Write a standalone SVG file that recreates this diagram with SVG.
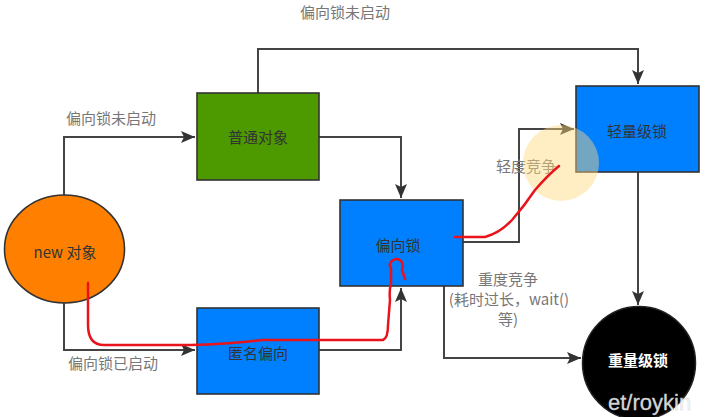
<svg xmlns="http://www.w3.org/2000/svg" width="712" height="417" viewBox="0 0 712 417">
<defs>
<style>
.box{stroke:#333;stroke-width:1.6}
.lbl{font-family:"Noto Sans CJK SC","Liberation Sans",sans-serif;font-size:15px;fill:#333;text-anchor:middle;dominant-baseline:central}
.elbl{font-family:"Noto Sans CJK SC","Liberation Sans",sans-serif;font-size:15px;fill:#777;text-anchor:middle}
.edge{fill:none;stroke:#444;stroke-width:2}
.red{fill:none;stroke:#e8131b;stroke-width:2.5;stroke-linecap:round;stroke-linejoin:round}
</style>
<marker id="a2" viewBox="0 0 14 12" refX="14" refY="6" markerWidth="14" markerHeight="12" markerUnits="userSpaceOnUse" orient="auto">
<path d="M0,0 L14,6 L0,12 L3,6 Z" fill="#333"/>
</marker>
</defs>
<rect width="712" height="417" fill="#fff"/>

<g id="connectors">
<path class="edge" d="M64,195 V137 H195" marker-end="url(#a2)"/>
<path class="edge" d="M64,303 V350 H195" marker-end="url(#a2)"/>
<path class="edge" d="M258,93 V49 H638 V84" marker-end="url(#a2)"/>
<path class="edge" d="M319,137 H401 V198" marker-end="url(#a2)"/>
<path class="edge" d="M319,350 H401 V288" marker-end="url(#a2)"/>
<path class="edge" d="M463,242 H519 V129 H574" marker-end="url(#a2)"/>
<path class="edge" d="M444,286 V358 H581" marker-end="url(#a2)"/>
<path class="edge" d="M638,172 V305" marker-end="url(#a2)"/>
<text class="elbl" x="345" y="18">偏向锁未启动</text>
<text class="elbl" x="111" y="124">偏向锁未启动</text>
<text class="elbl" x="113" y="369">偏向锁已启动</text>
<text class="elbl" x="526" y="172">轻度竞争</text>
<text class="elbl" x="508" y="285">重度竞争</text>
<text class="elbl" x="509" y="305">(耗时过长，wait()</text>
<text class="elbl" x="508" y="325">等)</text>
</g>

<g id="n-new">
<ellipse class="box" cx="64.5" cy="249" rx="60" ry="54" fill="#ff8000"/>
<text class="lbl" x="65" y="251">new 对象</text>
</g>
<g id="n-normal">
<rect class="box" x="197" y="93" width="122" height="87" fill="#4d9900"/>
<text class="lbl" x="258" y="136">普通对象</text>
</g>
<g id="n-anon">
<rect class="box" x="197" y="308" width="122" height="86" fill="#007fff"/>
<text class="lbl" x="258" y="352">匿名偏向</text>
</g>
<g id="n-biased">
<rect class="box" x="340" y="200" width="123" height="86" fill="#007fff"/>
<text class="lbl" x="398" y="244">偏向锁</text>
</g>
<g id="n-light">
<rect class="box" x="576" y="86" width="123" height="86" fill="#007fff"/>
<text class="lbl" x="637" y="130">轻量级锁</text>
</g>
<g id="n-heavy">
<circle cx="639" cy="363" r="56.5" fill="#000" stroke="#222" stroke-width="1.5"/>
<text class="lbl" x="638" y="359" style="fill:#fff;font-weight:bold">重量级锁</text>
</g>

<circle cx="561" cy="163" r="38" fill="#ffd77a" fill-opacity="0.45"/>

<g id="annotations">
<path class="red" d="M88,283 V325 Q88,345 104,345 H190 Q230,344 262,340 H383 Q388,338 388,325 L390,300 Q389,290 391,284 L391,268 Q388,264 392,261 Q397,257 401,261 Q404,265 402,270 L405,279"/>
<path class="red" d="M455,237 H485 Q500,233 512,220 Q525,205 535,190 Q548,175 559,166"/>
</g>

<text x="608" y="410" font-family="Liberation Sans, sans-serif" font-size="22" fill="#f4f4f4" fill-opacity="0.9" stroke="#ccc" stroke-width="0.3">et/roykin</text>
</svg>
